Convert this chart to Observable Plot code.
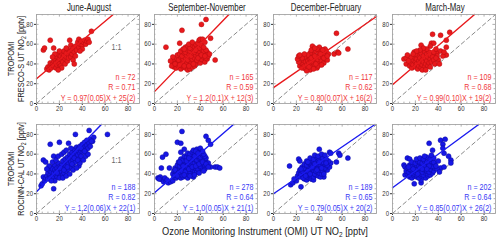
<!DOCTYPE html>
<html><head><meta charset="utf-8">
<script src="https://cdn.jsdelivr.net/npm/d3@7"></script>
<script src="https://cdn.jsdelivr.net/npm/@observablehq/plot@0.6"></script>
<style>
body{margin:0;background:#fff;}
#wrap{position:relative;width:500px;height:243px;overflow:hidden;background:#fff;
  font-family:"Liberation Sans",Arial,sans-serif;color:#222;}
.abs{position:absolute;white-space:nowrap;line-height:1;}
.ttl{font-size:10.5px;transform:translateX(-50%) scaleX(0.75);}
.ylab{font-size:9px;transform:translate(-50%,-50%) rotate(-90deg) scaleX(0.82);text-align:center;line-height:10px;}
.xlab{font-size:10.3px;transform:translateX(-50%) scaleX(0.9);}
sub{font-size:70%;vertical-align:-0.25em;line-height:0;}
</style></head><body><div id="wrap"></div>
<script>
const seasons = ["June-August","September-November","December-February","March-May"];
const rowLabels = [["TROPOMI","FRESCO-S UT NO<sub>2</sub> [pptv]"],["TROPOMI","ROCINN-CAL UT NO<sub>2</sub> [pptv]"]];
const xTitle = "Ozone Monitoring Instrument (OMI) UT NO<sub>2</sub> [pptv]";
const nValues = [[72,165,117,109],[188,278,189,202]];
const rValues = [["0.71","0.59","0.62","0.68"],["0.82","0.64","0.65","0.64"]];
const slopes = [["0.97","1.2","0.80","0.99"],["1.2","1.0","0.79","0.85"]];
const slopeErr = [["0.05","0.1","0.07","0.10"],["0.06","0.05","0.05","0.07"]];
const intercepts = [[25,12,16,19],[22,21,20,26]];
const interceptErr = [[2,3,2,2],[1,1,2,2]];
const axisMax = 90;
const tickValues = [0,20,40,60,80];

const frescoJJA = [[6,54],[7,56],[12,64],[15,56],[9,35],[10,37],[11,34],[12,38],[13,36],[12,41],[14,40],[15,38],[15,43],[16,45],[17,41],[17,36],[18,39],[18,47],[19,43],[19,50],[20,45],[20,40],[21,48],[21,38],[22,44],[22,51],[23,46],[23,42],[24,49],[24,53],[25,45],[25,40],[26,47],[26,51],[27,43],[27,55],[28,49],[28,46],[29,52],[29,64],[30,59],[30,47],[31,50],[31,54],[32,44],[32,56],[33,52],[34,58],[34,48],[35,54],[36,62],[37,57],[37,65],[38,60],[39,63],[40,59],[40,55],[41,62],[42,64],[43,60],[44,63],[45,65],[48,73],[46,62],[38,53],[20,53],[16,50],[26,56],[14,47],[22,36],[19,34],[33,40]];
const frescoSON = [[17,37],[19,36],[21,38],[23,35],[25,37],[27,36],[29,34],[31,35],[33,37],[20,39],[24,39],[28,39],[35,38],
[16,40],[18,42],[20,41],[22,43],[24,41],[26,42],[28,40],[30,43],[32,41],[34,42],[36,40],[38,43],[40,41],[42,44],[44,42],[46,45],
[17,45],[19,46],[21,44],[23,47],[25,45],[27,46],[29,44],[31,47],[33,45],[35,46],[37,44],[39,47],[41,45],[43,47],[45,46],[47,48],
[20,49],[22,50],[24,48],[26,51],[28,49],[30,50],[32,48],[34,51],[36,49],[38,50],[40,48],[42,51],[44,50],[46,52],[48,50],
[23,53],[25,55],[27,52],[29,54],[31,53],[33,55],[35,52],[37,54],[39,53],[41,55],[43,53],[45,54],
[27,57],[29,58],[31,56],[33,59],[35,57],[37,58],[39,56],[41,59],[43,57],[30,60],[36,60],
[33,62],[38,61],[39,64],[40,65],[42,65],[44,62],
[10,57],[24,74],[45,85],[41,80],[53,44],[16,47],[22,61],[49,66],[14,43],[26,55],[15,38],[18,40],[22,39],[26,38],[30,38],[34,40],[38,46],[41,49],[44,48],[36,54]];
const frescoDJF = [[23,38],[24,41],[25,36],[26,40],[26,44],[27,38],[28,42],[28,35],[29,46],[29,39],[30,43],[30,37],[31,41],[31,48],[32,34],[32,45],[33,39],[33,43],[34,47],[34,37],[35,41],[35,50],[36,44],[36,39],[37,46],[37,53],[38,42],[38,36],[39,48],[39,44],[40,51],[40,40],[41,46],[41,55],[42,43],[42,49],[43,47],[44,52],[44,41],[45,49],[45,45],[46,53],[46,47],[47,44],[48,50],[34,58],[40,57],[45,55],[38,55],[32,51],[30,49],[27,47],[25,46],[22,42],[21,45],[22,48],[23,49],[27,50],[33,54],[36,56],[43,54],[53,50],[56,52],[57,51],[55,71],[65,55],[29,33],[35,35],[39,38],[42,39],[31,37],[37,40],[33,46],[36,48],[41,50],[44,46],[47,48]];
const frescoMAM = [[10,45],[12,46],[12,40],[19,52],[35,70],[42,69],[50,72],[34,61],[36,61],[33,58],[25,59],[47,64],[47,57],[39,51],[47,49],[39,48],[35,49],[40,44],
[15,38],[16,41],[17,36],[18,44],[18,39],[19,47],[20,37],[20,42],[21,45],[21,40],[22,49],[22,35],[23,43],[23,38],[24,46],[24,41],[25,51],[25,36],[26,44],[26,39],[27,48],[27,42],[28,53],[28,37],[29,45],[29,40],[30,50],[30,43],[31,47],[31,38],[32,52],[32,41],[33,45],[33,49],[34,42],[35,47],[36,44],[36,52],[37,40],[38,46],[30,55],[27,56],[24,54],[20,50],[16,47],[14,43],[13,49],[26,34],[29,34],[33,37],[41,40],[38,55],[44,48],[42,53],[45,52],[21,53],[18,50]];
const rocinnJJA = [[4,28],[5,30],[7,33],[6,54],[8,52],[12,70],[15,58],[15,25],[28,71],[20,72],[34,80],[46,84],[62,80],[47,75],[50,77],[49,73],[37,48],[6,37],[8,36],
[9,38],[10,41],[10,35],[11,44],[12,39],[12,36],[13,42],[13,47],[14,38],[14,45],[15,41],[15,36],[16,44],[16,49],[17,39],[17,42],[18,46],[18,37],[19,43],[19,51],[20,40],[20,47],[21,38],[21,44],[22,49],[22,42],[23,53],[23,39],[24,46],[24,41],[25,50],[25,55],[26,43],[26,48],[27,52],[27,57],[28,45],[28,50],[29,55],[29,60],[30,47],[30,52],[31,58],[31,62],[32,54],[32,49],[33,60],[33,65],[34,57],[34,52],[35,62],[35,67],[36,59],[36,64],[37,55],[37,66],[38,61],[38,68],[39,63],[39,58],[40,65],[40,70],[41,62],[42,67],[42,72],[43,64],[44,69],[44,74],[45,66],[46,71],[47,68],[48,73],
[11,48],[9,45],[14,52],[17,54],[19,58],[22,60],[24,62],[26,64],[30,66],[20,36],[23,36],[26,38],[29,40],[32,44],[35,46],[38,51],[41,54],[43,58],[45,60],[16,33],[13,33],[18,41],[21,46],[24,44],[27,47],[31,50],[33,56],[36,54],[39,66],[42,63]];
const rocinnSON = [[24,83],[3,36],[5,35],[7,34],[8,32],[10,33],[12,31],[14,32],[16,33],[5,37],[7,57],[10,60],[6,46],[20,72],[23,71],[26,65],[23,62],[47,74],[45,78],[49,70],[53,47],[55,47],[57,46],[49,47],[13,46],[34,37],[4,35],[9,36],[11,34],
[17,37],[19,36],[21,38],[23,36],[25,37],[27,38],[29,36],
[16,40],[18,39],[20,41],[22,40],[24,39],[26,41],[28,40],[30,39],[32,41],[34,40],
[17,43],[19,42],[21,44],[23,43],[25,42],[27,44],[29,43],[31,42],[33,44],[35,43],[37,42],[39,44],
[18,46],[20,45],[22,47],[24,46],[26,45],[28,47],[30,46],[32,45],[34,47],[36,46],[38,45],[40,47],[42,46],[44,45],
[20,49],[22,48],[24,50],[26,49],[28,48],[30,50],[32,49],[34,48],[36,50],[38,49],[40,48],[42,50],[44,49],[46,48],
[21,52],[23,51],[25,53],[27,52],[29,51],[31,53],[33,52],[35,51],[37,53],[39,52],[41,51],[43,53],[45,52],[47,51],
[23,55],[25,54],[27,56],[29,55],[31,54],[33,56],[35,55],[37,54],[39,56],[41,55],[43,54],[45,56],
[26,58],[28,57],[30,59],[32,58],[34,57],[36,59],[38,58],[40,57],[42,59],[44,58],
[29,61],[31,60],[33,62],[35,61],[37,60],[39,62],[41,61],[43,60],
[34,64],[37,65],[40,66],[42,63],[36,63],
[18,44],[21,41],[24,43],[27,42],[30,45],[33,47],[36,48],[39,50],[42,52],[45,50],[20,38],[26,39],[31,38],[35,39],[39,41],[43,43],[47,47],[28,53],[32,55],[35,58],[38,61],[30,56],[25,48],[22,52]];
const rocinnDJF = [[15,29],[17,31],[14,48],[24,27],[22,55],[23,53],[40,65],[65,56],[57,61],[58,59],[49,62],[50,61],[55,52],[44,37],
[27,35],[29,34],[31,36],[33,35],[35,34],
[21,38],[23,37],[25,39],[27,38],[29,37],[31,39],[33,38],[35,37],[37,39],[39,38],[41,37],
[22,41],[24,40],[26,42],[28,41],[30,40],[32,42],[34,41],[36,40],[38,42],[40,41],[42,40],[44,42],
[23,44],[25,43],[27,45],[29,44],[31,43],[33,45],[35,44],[37,43],[39,45],[41,44],[43,43],[45,45],[47,44],
[25,47],[27,46],[29,48],[31,47],[33,46],[35,48],[37,47],[39,46],[41,48],[43,47],[45,46],[47,48],[49,47],
[27,50],[29,49],[31,51],[33,50],[35,49],[37,51],[39,50],[41,49],[43,51],[45,50],[47,49],[50,51],
[29,53],[31,52],[33,54],[35,53],[37,52],[39,54],[41,53],[43,52],[45,54],[48,53],
[32,56],[35,55],[38,57],[40,55],[43,56],[46,55],
[36,59],[39,58],[42,60],[45,59],
[20,33],[18,35],[26,36],[30,43],[34,47],[38,44],[42,46],[46,51],[36,50],[32,40],[28,38],[24,45],[30,52],[40,52],[44,40]];
const rocinnMAM = [[10,49],[11,47],[13,56],[15,55],[11,39],[19,30],[32,71],[42,74],[46,75],[44,70],[35,64],[44,66],[45,61],[51,54],[51,51],[49,58],[42,46],[45,47],[25,31],[25,34],
[15,37],[17,36],[19,38],[21,37],[23,36],[25,38],[27,37],[29,36],[31,38],
[13,40],[15,39],[17,41],[19,40],[21,39],[23,41],[25,40],[27,39],[29,41],[31,40],[33,39],[35,41],
[12,43],[14,42],[16,44],[18,43],[20,42],[22,44],[24,43],[26,42],[28,44],[30,43],[32,42],[34,44],[36,43],
[13,46],[15,45],[17,47],[19,46],[21,45],[23,47],[25,46],[27,45],[29,47],[31,46],[33,45],[35,47],[37,46],[39,45],
[15,49],[17,48],[19,50],[21,49],[23,48],[25,50],[27,49],[29,48],[31,50],[33,49],[35,48],[37,50],
[17,52],[20,51],[22,53],[24,52],[26,51],[28,53],[30,52],[32,51],[34,53],[36,52],
[21,55],[24,56],[27,55],[30,57],[33,55],[36,56],[28,58],[34,59],
[20,44],[24,46],[28,47],[32,48],[18,45],[22,40],[26,45],[30,45],[14,47],[38,48],[40,53],[41,42]];

const panels = [[frescoJJA,frescoSON,frescoDJF,frescoMAM],[rocinnJJA,rocinnSON,rocinnDJF,rocinnMAM]];

const FONT = '"Liberation Sans",Arial,sans-serif';
const colors = [
  {fill:"#e8191c", stroke:"#b50d10", line:"#e8191c", text:"#f0393c"},
  {fill:"#1717e6", stroke:"#0a0a9e", line:"#1a1af0", text:"#3a3af5"}
];
const frameLefts = [36,154,273,392];
const frameTops = [14,124];
const M = {left:16, right:4, top:2, bottom:13};
const PW = 103, PH = 89;

const wrap = document.getElementById("wrap");

function inwardTicks() {
  const minor = d3.range(0, axisMax + 0.1, 5);
  const len = d => (d % 20 === 0 ? 2.6 : 1.4);
  const k = axisMax / PW;
  const ky = axisMax / PH;
  const st = {stroke:"#999", strokeWidth:0.8};
  return [
    Plot.ruleX(minor, {x:d=>d, y1:0, y2:d=>len(d)*ky, ...st}),
    Plot.ruleX(minor, {x:d=>d, y1:axisMax, y2:d=>axisMax-len(d)*ky, ...st}),
    Plot.ruleY(minor, {y:d=>d, x1:0, x2:d=>len(d)*k, ...st}),
    Plot.ruleY(minor, {y:d=>d, x1:axisMax, x2:d=>axisMax-len(d)*k, ...st})
  ];
}

// horizontally condense each text about its own anchor (local x = 0)
function condense(svg, factor) {
  svg.querySelectorAll("text").forEach(t => {
    const tr = t.getAttribute("transform") || "";
    t.setAttribute("transform", (tr + ` scale(${factor},1)`).trim());
  });
}

for (let row = 0; row < 2; row++) {
  for (let col = 0; col < 4; col++) {
    const pts = panels[row][col];
    const c = colors[row];
    const m = +slopes[row][col], b = intercepts[row][col];
    const xEnd = Math.min(axisMax, (axisMax - b) / m);
    const fit = [[0, b], [xEnd, b + m * xEnd]];
    const diag = [[0, 0], [axisMax, axisMax]];
    const label = `n = ${nValues[row][col]}\nR = ${rValues[row][col]}\nY = ${slopes[row][col]}(${slopeErr[row][col]})X + ${intercepts[row][col]}(${interceptErr[row][col]})`;
    const marks = [
      ...inwardTicks(),
      Plot.line(diag, {x:d=>d[0], y:d=>d[1], stroke:"#8a8a8a", strokeWidth:1, strokeDasharray:"4,3"}),
      Plot.dot(pts, {x:d=>d[0], y:d=>d[1], r:2.5, fill:c.fill, stroke:c.stroke, strokeWidth:0.5}),
      Plot.line(fit, {x:d=>d[0], y:d=>d[1], stroke:c.line, strokeWidth:1.4}),
      Plot.text([label], {text:d=>d, frameAnchor:"bottom-right", textAnchor:"end", lineAnchor:"bottom", lineHeight:1.25, dx:-4, dy:-3, fill:c.text, fontSize:8.3}),
      Plot.frame({stroke:"#a5a5a5", strokeWidth:0.9})
    ];
    if (col === 0) {
      marks.push(Plot.text(["1:1"], {text:d=>d, frameAnchor:"right", textAnchor:"middle", dx:-23, dy: row === 0 ? -12 : -9, fill:"#666", fontSize:8.3}));
    }
    const svg = Plot.plot({
      width: M.left + PW + M.right,
      height: M.top + PH + M.bottom,
      marginLeft: M.left, marginRight: M.right, marginTop: M.top, marginBottom: M.bottom,
      x: {domain:[0, axisMax], ticks: tickValues, tickSize:2, tickPadding:1, label:null},
      y: {domain:[0, axisMax], ticks: tickValues, tickSize:2, tickPadding:1.5, label:null},
      style: {fontFamily: FONT, fontSize:"7px", color:"#333", background:"transparent", overflow:"visible"},
      marks
    });
    svg.style.position = "absolute";
    svg.style.left = (frameLefts[col] - M.left) + "px";
    svg.style.top = (frameTops[row] - M.top) + "px";
    wrap.appendChild(svg);
    condense(svg, 0.86);
  }
}

seasons.forEach((s, col) => {
  const d = document.createElement("div");
  d.className = "abs ttl";
  d.textContent = s;
  d.style.left = (frameLefts[col] + PW / 2 + 1) + "px";
  d.style.top = "2px";
  wrap.appendChild(d);
});

rowLabels.forEach((lines, row) => {
  const d = document.createElement("div");
  d.className = "abs ylab";
  d.innerHTML = lines.join("<br>");
  d.style.left = "16px";
  d.style.top = (frameTops[row] + PH / 2) + "px";
  wrap.appendChild(d);
});

const xt = document.createElement("div");
xt.className = "abs xlab";
xt.innerHTML = xTitle;
xt.style.left = "265px";
xt.style.top = "227px";
wrap.appendChild(xt);
</script>
</body></html>
